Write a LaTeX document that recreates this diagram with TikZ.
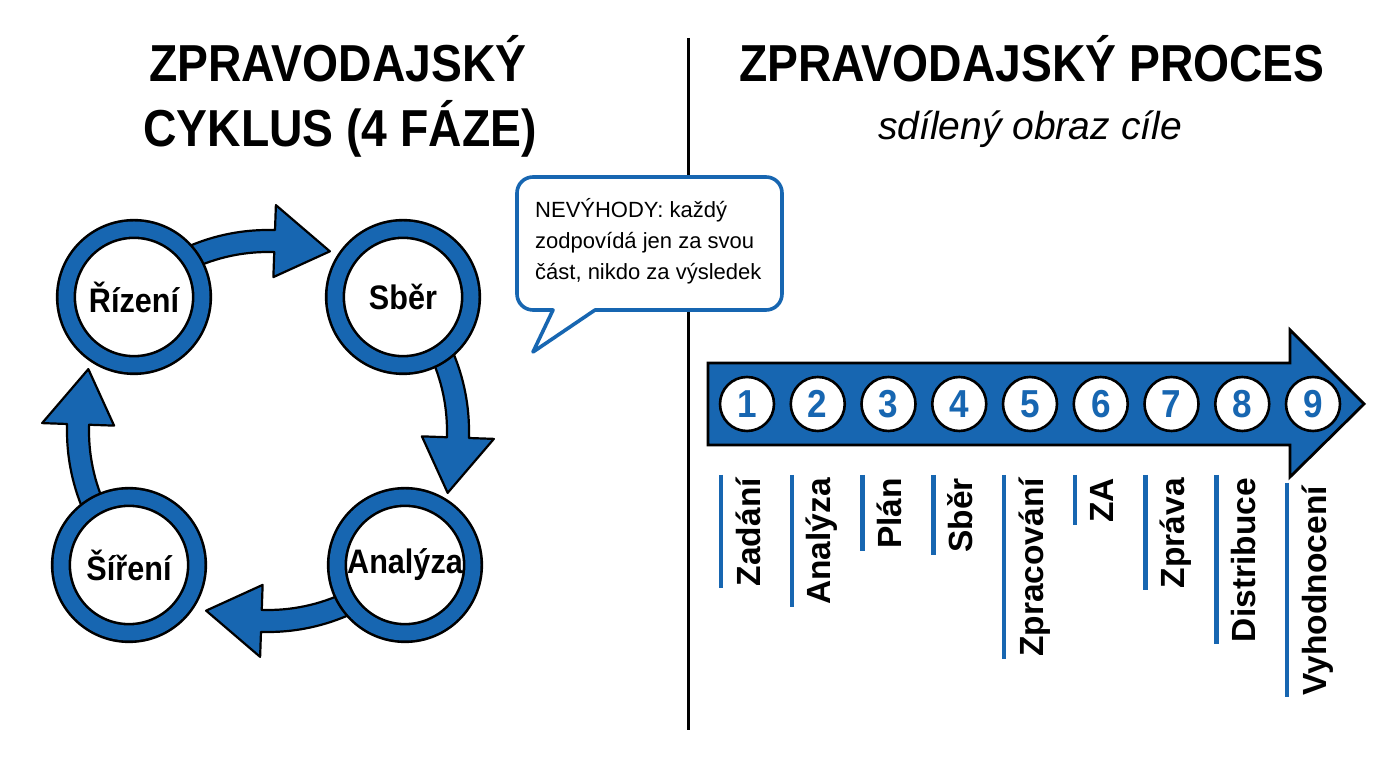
\documentclass[tikz,border=0pt]{standalone}
\usepackage{fontspec}
\setmainfont{Liberation Sans}
\newfontfamily\condfont{Liberation Sans}[FakeStretch=0.89]
\newfontfamily\midfont{Liberation Sans}[FakeStretch=0.9]
\usetikzlibrary{calc}
\definecolor{blueC}{HTML}{1766B1}
\tikzset{
  titlesty/.style={anchor=base, inner sep=0pt, font={\condfont\bfseries\fontsize{52}{56}\selectfont}},
  phase/.style={circle, minimum size=136pt, inner sep=0pt, fill=white, draw=black, line width=2.6pt,
     double=blueC, double distance=15pt, font={\midfont\bfseries\fontsize{34}{36}\selectfont}},
  cycarr/.style={fill=blueC, draw=black, line width=2.2pt, line join=round},
  numc/.style={circle, minimum size=54pt, inner sep=0pt, fill=white, draw=black, line width=2.6pt,
     text=blueC, font={\midfont\bfseries\fontsize{39}{42}\selectfont}},
  lab/.style={rotate=90, anchor=base east, inner sep=0pt, font={\bfseries\fontsize{33.5}{36}\selectfont}},
  labbar/.style={draw=blueC, line width=4.5pt},
}
\newcommand\mycycarrow[1]{%
  \pgfmathsetmacro\ArA{#1+26}\pgfmathsetmacro\ArB{#1-2}\pgfmathsetmacro\ArC{#1-19}%
  \draw[cycarr] (\ArA:201pt) arc[start angle=\ArA, end angle=\ArB, radius=201pt]
     -- (\ArB:226pt) -- (\ArC:190pt) -- (\ArB:154pt) -- (\ArB:179pt)
     arc[start angle=\ArB, end angle=\ArA, radius=179pt] -- cycle;}
\begin{document}
\begin{tikzpicture}[x=1pt,y=1pt]
\useasboundingbox (0,0) rectangle (1376,768);
\fill[white] (0,0) rectangle (1376,768);

% titles
\node[titlesty] (tl1) at (338,686) {ZPRAVODAJSKÝ};
\node[titlesty] (tl2) at (340,621) {CYKLUS (4 FÁZE)};
\node[titlesty] (tr1) at (1032,686) {ZPRAVODAJSKÝ PROCES};
\node[anchor=base, inner sep=0pt, font={\itshape\fontsize{39}{42}\selectfont}] (tr2) at (1030,628) {sdílený obraz cíle};

% divider
\coordinate (dtop) at (688,730);
\coordinate (dbot) at (688,38);
\draw[line width=3pt] (dtop) -- (dbot);

% cycle arrows
\begin{scope}[shift={(268,337)}]
  \mycycarrow{90}
  \mycycarrow{0}
  \mycycarrow{-90}
  \mycycarrow{180}
\end{scope}

% cycle phases
\node[phase] (riz) at (134,471) {Řízení};
\node[phase] (sber) at (403,471) {Sběr};
\node[phase] (anal) at (405,203) {Analýza};
\node[phase] (sir) at (129,203) {Šíření};

% speech bubble
\draw[draw=blueC, fill=white, line width=3.6pt, line join=round]
  (533,416) -- (553,458) [rounded corners=16pt] -- (517,458) -- (517,591) -- (782,591) -- (782,458) [sharp corners] -- (595,458) -- cycle;
\node[anchor=north west, inner sep=0pt, align=left, font={\fontsize{22}{31}\selectfont}] (note) at (535,570)
  {NEVÝHODY: každý\\zodpovídá jen za svou\\část, nikdo za výsledek};

% process arrow
\draw[fill=blueC, draw=black, line width=2.8pt, line join=miter]
  (708,405) -- (1290,405) -- (1290,438) -- (1364,364) -- (1290,291) -- (1290,323) -- (708,323) -- cycle;

\foreach \i/\t/\top in {1/Zadání/290, 2/Analýza/290, 3/Plán/290, 4/Sběr/290, 5/Zpracování/290,
                     6/ZA/290, 7/Zpráva/290, 8/Distribuce/290, 9/Vyhodnocení/282}{
  \pgfmathsetmacro\cx{747+70.75*(\i-1)}
  \node[numc] (n\i) at (\cx,364) {\i};
  \node[lab] (l\i) at (\cx+13,\top) {\t};
  \draw[labbar] ($(l\i.base east)+(-39,3)$) -- ($(l\i.base west)+(-39,-2)$);
}
\end{tikzpicture}
\end{document}
